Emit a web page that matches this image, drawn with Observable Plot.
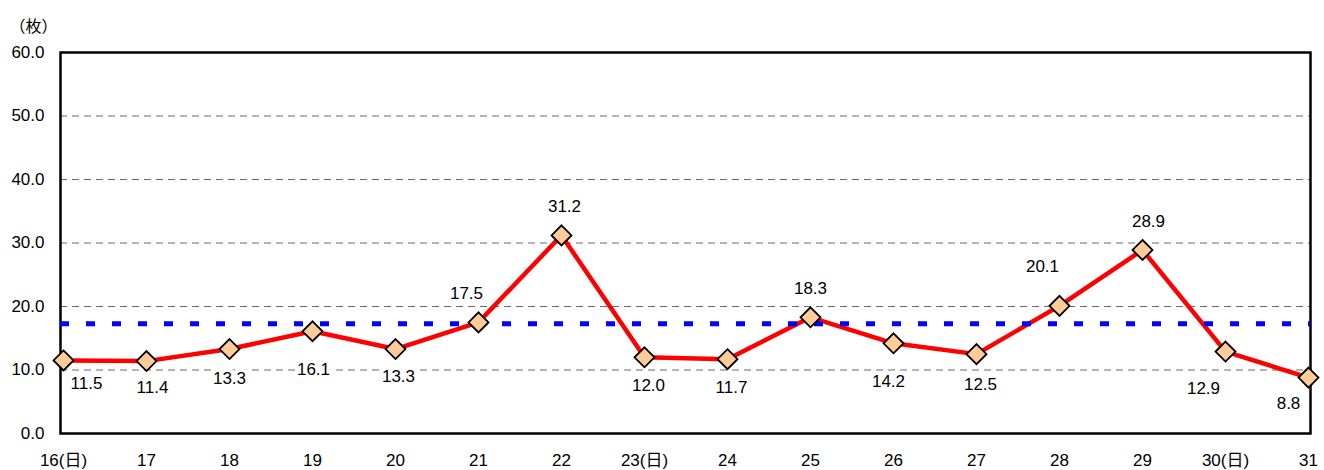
<!DOCTYPE html>
<html>
<head>
<meta charset="utf-8">
<script src="https://cdn.jsdelivr.net/npm/d3@7"></script>
<script src="https://cdn.jsdelivr.net/npm/@observablehq/plot@0.6"></script>
<style>
  html, body { margin: 0; padding: 0; background: #fff; }
</style>
</head>
<body>
<div id="chart"></div>
<script>
const dayLabels = ["16(日)", "17", "18", "19", "20", "21", "22", "23(日)", "24", "25", "26", "27", "28", "29", "30(日)", "31"];
const values = [11.5, 11.4, 13.3, 16.1, 13.3, 17.5, 31.2, 12.0, 11.7, 18.3, 14.2, 12.5, 20.1, 28.9, 12.9, 8.8];
const averageValue = 17.3;
const yTicks = [0, 10, 20, 30, 40, 50, 60];
const gridValues = [10, 20, 30, 40, 50];
const unitLabel = "（枚）";

// label placement offsets (pixels) relative to each point
const labelOffsets = [
  [23, 23], [6, 26], [0, 30], [1, 38], [3, 28], [-12, -29], [3, -29], [4, 28],
  [4, 28], [0, -29], [-5, 38], [4, 30], [-17, -39], [6, -28], [-22, 37], [-20, 26]
];

const data = dayLabels.map((d, i) => ({ day: d, value: values[i] }));
const font = "'Liberation Sans', 'Noto Sans CJK JP', sans-serif";

const labelMarks = data.map((d, i) =>
  Plot.text([d], {
    x: "day", y: "value",
    text: v => v.value.toFixed(1),
    dx: labelOffsets[i][0], dy: labelOffsets[i][1],
    fontSize: 17, fill: "#000",
    stroke: "white", strokeWidth: 8
  })
);

const chart = Plot.plot({
  width: 1324,
  height: 470,
  marginLeft: 60,
  marginRight: 14,
  marginTop: 52,
  marginBottom: 37,
  style: { fontFamily: font, fontSize: "17px", color: "#000", background: "white" },
  x: { type: "point", domain: dayLabels, padding: 0, label: null },
  y: { domain: [0, 60], label: null },
  marks: [
    Plot.ruleY(gridValues, { stroke: "#6a6a6a", strokeWidth: 1, strokeDasharray: "7,5" }),
    Plot.axisY({ ticks: yTicks, tickFormat: d => d.toFixed(1), tickSize: 0, tickPadding: 16, fontSize: 17, label: null }),
    Plot.axisX({ tickSize: 0, tickPadding: 20, fontSize: 17, label: null }),
    Plot.frame({ stroke: "black", strokeWidth: 2.5 }),
    Plot.line(data, { x: "day", y: "value", stroke: "#ff0000", strokeWidth: 4.5 }),
    Plot.ruleY([averageValue], { stroke: "#0000ff", strokeWidth: 5, strokeDasharray: "9,17" }),
    Plot.dot(data, { x: "day", y: "value", symbol: "diamond2", r: 9, fill: "#ffcc99", stroke: "black", strokeWidth: 1.8 }),
    ...labelMarks,
    Plot.text([unitLabel], { frameAnchor: "top-left", textAnchor: "start", dx: -51, dy: -32, fontSize: 16, fill: "#000" })
  ]
});
document.getElementById("chart").appendChild(chart);
</script>
</body>
</html>
